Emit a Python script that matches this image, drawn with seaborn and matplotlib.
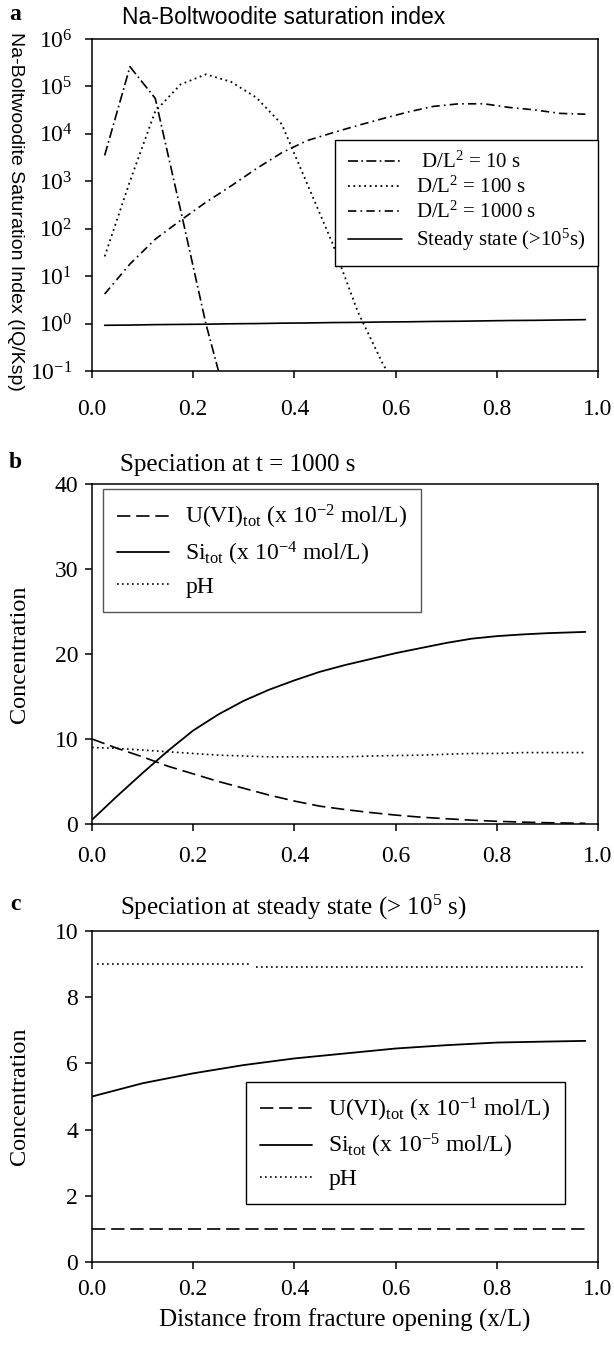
import pandas as pd
import seaborn as sns
import matplotlib.pyplot as plt
from matplotlib.ticker import LogLocator, NullLocator, MultipleLocator, FormatStrFormatter

#####################
###     DATA     ####
#####################
# panel a : Na-boltwoodite saturation index (IQ/Ksp) along the fracture
xa = [0.025, 0.075, 0.125, 0.175, 0.225, 0.275, 0.325, 0.375, 0.425, 0.475,
      0.525, 0.575, 0.625, 0.675, 0.725, 0.775, 0.825, 0.875, 0.925, 0.975]
si_10 = [3.5e3, 2.6e5, 5.6e4, 2.5e2, 1.0, 1e-2]
si_100 = [26, 1.0e3, 3.0e4, 1.1e5, 1.8e5, 1.25e5, 5.8e4, 1.6e4, 9e2, 50, 1.8, 0.14, 0.016]
si_1000 = [4.2, 18, 60, 150, 360, 800, 1.85e3, 4.0e3, 7.2e3, 1.05e4,
           1.5e4, 2.1e4, 2.9e4, 3.8e4, 4.3e4, 4.3e4, 3.6e4, 3.2e4, 2.7e4, 2.6e4]
si_ss = [0.92, 0.93, 0.95, 0.96, 0.97, 0.99, 1.0, 1.02, 1.03, 1.05,
         1.06, 1.08, 1.09, 1.11, 1.12, 1.14, 1.16, 1.17, 1.19, 1.21]
labels_a = [r' D/L$^2$ = 10 s', r'D/L$^2$ = 100 s', r'D/L$^2$ = 1000 s', r'Steady state (>10$^5$s)']

# panel b : speciation at t = 1000 s
xb = [0.0, 0.05, 0.1, 0.15, 0.2, 0.25, 0.3, 0.35, 0.4, 0.45, 0.5,
      0.55, 0.6, 0.65, 0.7, 0.75, 0.8, 0.85, 0.9, 0.95, 0.975]
u_b = [10.0, 8.9, 7.9, 6.8, 5.9, 5.0, 4.2, 3.4, 2.7, 2.1, 1.7,
       1.35, 1.05, 0.8, 0.62, 0.45, 0.32, 0.22, 0.15, 0.1, 0.08]
si_b = [0.5, 3.3, 6.0, 8.6, 11.0, 12.9, 14.5, 15.8, 16.9, 17.9, 18.7,
        19.4, 20.1, 20.7, 21.3, 21.8, 22.1, 22.3, 22.45, 22.55, 22.6]
ph_b = [9.0, 8.9, 8.7, 8.5, 8.3, 8.1, 8.0, 7.9, 7.9, 7.9, 7.9,
        8.0, 8.05, 8.1, 8.2, 8.3, 8.3, 8.4, 8.4, 8.4, 8.4]
labels_b = [r'U(VI)$_{\rm tot}$ (x 10$^{-2}$ mol/L)', r'Si$_{\rm tot}$ (x 10$^{-4}$ mol/L)', 'pH']

# panel c : speciation at steady state
xc = [0.0, 0.1, 0.2, 0.3, 0.4, 0.5, 0.6, 0.7, 0.8, 0.9, 0.975]
u_c = [1.0, 1.0, 1.0, 1.0, 1.0, 1.0, 1.0, 1.0, 1.0, 1.0, 1.0]
si_c = [5.0, 5.4, 5.7, 5.95, 6.15, 6.3, 6.45, 6.55, 6.63, 6.66, 6.68]
xc_ph1 = [0.01, 0.31]
ph_c1 = [9.0, 9.0]
xc_ph2 = [0.325, 0.975]
ph_c2 = [8.9, 8.9]
labels_c = [r'U(VI)$_{\rm tot}$ (x 10$^{-1}$ mol/L)', r'Si$_{\rm tot}$ (x 10$^{-5}$ mol/L)', 'pH']

#####################
###    STYLE     ####
#####################
sns.set_style('ticks')
plt.rcParams['font.family'] = ['Liberation Serif', 'DejaVu Serif']
plt.rcParams['mathtext.fontset'] = 'custom'
plt.rcParams['mathtext.rm'] = 'Liberation Serif'
plt.rcParams['mathtext.it'] = 'Liberation Serif:italic'
plt.rcParams['mathtext.bf'] = 'Liberation Serif:bold'
plt.rcParams['text.color'] = 'black'
plt.rcParams['axes.labelcolor'] = 'black'
plt.rcParams['axes.edgecolor'] = 'black'
plt.rcParams['xtick.color'] = 'black'
plt.rcParams['ytick.color'] = 'black'

DASHDOT_A = (0, (6, 2, 1, 2))
DASHDOT_B = (0, (5, 2.5, 1, 2.5))
DOTTED = (0, (1, 2))
DASHED = (0, (8, 3.5))

fig = plt.figure(figsize=(6.14, 13.46), dpi=100)
W, H = 614., 1346.
def box(l, t, r, b):
    return [l / W, 1 - b / H, (r - l) / W, (b - t) / H]

ax_a = fig.add_axes(box(92, 39, 598, 371))
ax_b = fig.add_axes(box(92, 484, 598, 824))
ax_c = fig.add_axes(box(92, 931, 598, 1262))

def frame(ax, xpad, ypad):
    for s in ax.spines.values():
        s.set_visible(True)
        s.set_linewidth(1.1)
        s.set_color('black')
    ax.tick_params(direction='out', length=5, width=1.1, labelsize=17,
                   top=False, right=False)
    ax.tick_params(axis='x', pad=xpad)
    ax.tick_params(axis='y', pad=ypad)
    ax.set_xlim(0, 1.0)
    ax.xaxis.set_major_locator(MultipleLocator(0.2))
    ax.xaxis.set_major_formatter(FormatStrFormatter('%.1f'))

LEG = dict(frameon=True, fancybox=False, framealpha=1, borderaxespad=0,
           handletextpad=0.7, borderpad=0.6)

#####################
###   PANEL  a   ####
#####################
sns.lineplot(x=xa[:len(si_10)], y=si_10, ax=ax_a, color='black', lw=1.2, linestyle=DASHDOT_A, label=labels_a[0])
sns.lineplot(x=xa[:len(si_100)], y=si_100, ax=ax_a, color='black', lw=1.3, linestyle=DOTTED, label=labels_a[1])
sns.lineplot(x=xa, y=si_1000, ax=ax_a, color='black', lw=1.2, linestyle=DASHDOT_B, label=labels_a[2])
sns.lineplot(x=xa, y=si_ss, ax=ax_a, color='black', lw=1.2, label=labels_a[3])
ax_a.set_yscale('log')
frame(ax_a, 15, 9)
ax_a.set_ylim(0.1, 1e6)
ax_a.yaxis.set_major_locator(LogLocator(base=10, numticks=10))
ax_a.yaxis.set_minor_locator(NullLocator())
ax_a.set_xlabel('')
ax_a.set_ylabel('Na-Boltwoodite Saturation Index (IQ/Ksp)', fontsize=14, family='Liberation Sans',
                rotation=270, va='center')
ax_a.yaxis.set_label_coords(-0.152, 0.48)
ax_a.legend(loc='upper right', bbox_to_anchor=(1.0, 0.697), fontsize=15, edgecolor='black',
            handlelength=2.6, labelspacing=0.18, **LEG)

#####################
###   PANEL  b   ####
#####################
sns.lineplot(x=xb, y=u_b, ax=ax_b, color='black', lw=1.2, linestyle=DASHED, label=labels_b[0])
sns.lineplot(x=xb, y=si_b, ax=ax_b, color='black', lw=1.3, label=labels_b[1])
sns.lineplot(x=xb, y=ph_b, ax=ax_b, color='black', lw=1.2, linestyle=DOTTED, label=labels_b[2])
frame(ax_b, 11, 5)
ax_b.set_ylim(0, 40)
ax_b.yaxis.set_major_locator(MultipleLocator(10))
ax_b.set_xlabel('')
ax_b.set_ylabel('Concentration', fontsize=17.5, va='center')
ax_b.yaxis.set_label_coords(-0.144, 0.5)
ax_b.legend(loc='upper left', bbox_to_anchor=(0.021, 0.985), fontsize=17, edgecolor='#555555',
            handlelength=2.2, labelspacing=0.35, **LEG)

#####################
###   PANEL  c   ####
#####################
sns.lineplot(x=xc, y=u_c, ax=ax_c, color='black', lw=1.2, linestyle=DASHED, label=labels_c[0])
sns.lineplot(x=xc, y=si_c, ax=ax_c, color='black', lw=1.3, label=labels_c[1])
sns.lineplot(x=xc_ph1, y=ph_c1, ax=ax_c, color='black', lw=1.2, linestyle=DOTTED, label=labels_c[2])
sns.lineplot(x=xc_ph2, y=ph_c2, ax=ax_c, color='black', lw=1.2, linestyle=DOTTED)
frame(ax_c, 7, 5)
ax_c.set_ylim(0, 10)
ax_c.yaxis.set_major_locator(MultipleLocator(2))
ax_c.set_xlabel('Distance from fracture opening (x/L)', fontsize=18, va='center')
ax_c.xaxis.set_label_coords(0.5, -0.176)
ax_c.set_ylabel('Concentration', fontsize=17.5, va='center')
ax_c.yaxis.set_label_coords(-0.144, 0.5)
ax_c.legend(loc='upper left', bbox_to_anchor=(0.304, 0.545), fontsize=17, edgecolor='black',
            handlelength=2.2, labelspacing=0.35, **LEG)

#####################
###   TITLES     ####
#####################
fig.text(15 / W, 1 - 15 / H, 'a', fontsize=17, weight='bold', va='center', ha='center')
fig.text(122 / W, 1 - 17 / H, 'Na-Boltwoodite saturation index', fontsize=16.5,
         family='Liberation Sans', va='center')
fig.text(15 / W, 1 - 463 / H, 'b', fontsize=17, weight='bold', va='center', ha='center')
fig.text(120 / W, 1 - 465 / H, 'Speciation at t = 1000 s', fontsize=18, va='center')
fig.text(15 / W, 1 - 905 / H, 'c', fontsize=17, weight='bold', va='center', ha='center')
fig.text(120 / W, 1 - 907 / H, r'Speciation at steady state (> 10$^5$ s)', fontsize=18, va='center')

fig.savefig('out.png', dpi=100)
plt.close()
